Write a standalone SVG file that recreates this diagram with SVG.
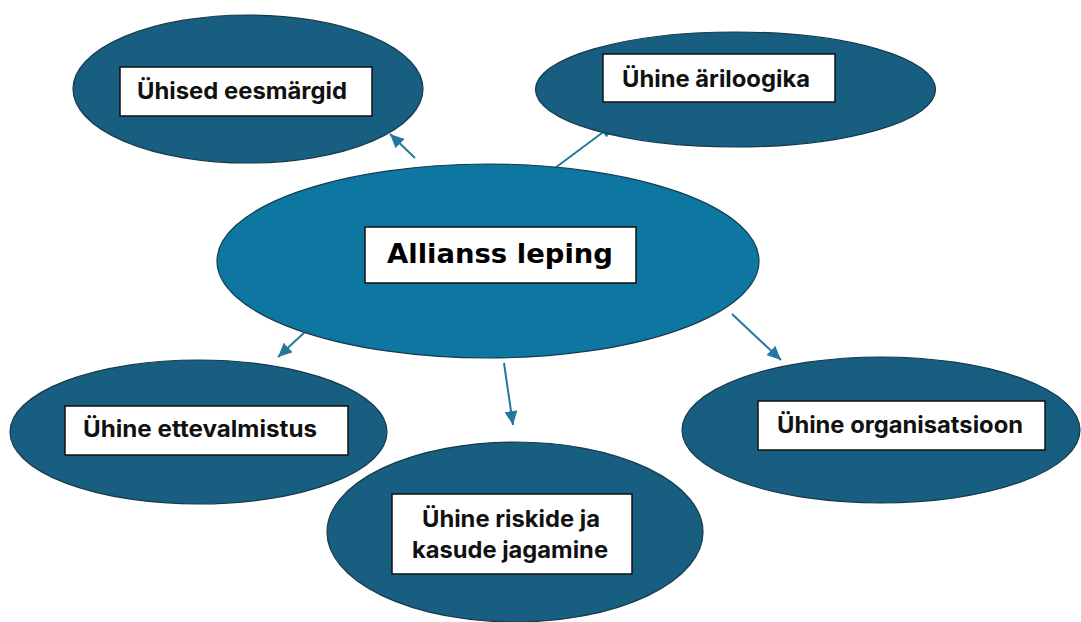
<svg xmlns="http://www.w3.org/2000/svg" width="1081" height="622" viewBox="0 0 1081 622">
<style>
.side{fill:#175e80;stroke:#163b4c;stroke-width:1.2}
.center{fill:#0d76a1;stroke:#163b4c;stroke-width:1.2}
.box{fill:#ffffff;stroke:#111111;stroke-width:1.5}
.lbl{font-family:Inter,"Liberation Sans",sans-serif;font-weight:700;font-size:23px;fill:#111111}
.main{font-family:"DejaVu Sans","Liberation Sans",sans-serif;font-weight:700;font-size:27px;fill:#000000}
.conn line{stroke:#2577a0;stroke-width:2;marker-end:url(#ah)}
</style>
<defs>
<marker id="ah" markerUnits="userSpaceOnUse" markerWidth="15" markerHeight="13" refX="14" refY="6.5" orient="auto">
<path d="M0,0 L14,6.5 L0,13 Z" fill="#2577a0"/>
</marker>
</defs>
<rect width="1081" height="622" fill="#ffffff"/>
<g id="connectors" class="conn">
<line x1="415" y1="158" x2="390" y2="134"/>
<line x1="555" y1="168" x2="614" y2="124"/>
<line x1="320" y1="318" x2="278" y2="357"/>
<line x1="504" y1="363" x2="513" y2="425"/>
<line x1="732" y1="314" x2="781" y2="360"/>
</g>
<g id="node-eesmargid">
<ellipse class="side" cx="248" cy="89" rx="175" ry="74"/>
<rect class="box" x="120" y="67" width="252" height="49"/>
<text class="lbl" x="137" y="99" textLength="210" lengthAdjust="spacingAndGlyphs">Ühised eesmärgid</text>
</g>
<g id="node-ariloogika">
<ellipse class="side" cx="735.5" cy="89.5" rx="200" ry="57.5"/>
<rect class="box" x="603" y="54" width="232" height="48"/>
<text class="lbl" x="622" y="87" textLength="188" lengthAdjust="spacingAndGlyphs">Ühine äriloogika</text>
</g>
<g id="node-allianss">
<ellipse class="center" cx="488" cy="261" rx="271" ry="97"/>
<rect class="box" x="365" y="227" width="271" height="56"/>
<text class="main" x="387" y="263" textLength="226" lengthAdjust="spacingAndGlyphs">Allianss leping</text>
</g>
<g id="node-ettevalmistus">
<ellipse class="side" cx="198.5" cy="432" rx="188.5" ry="72"/>
<rect class="box" x="65" y="406" width="283" height="49"/>
<text class="lbl" x="83" y="437" textLength="234" lengthAdjust="spacingAndGlyphs">Ühine ettevalmistus</text>
</g>
<g id="node-riskid">
<ellipse class="side" cx="515" cy="532" rx="188" ry="90"/>
<rect class="box" x="392" y="494" width="240" height="80"/>
<text class="lbl" x="422" y="527" textLength="178" lengthAdjust="spacingAndGlyphs">Ühine riskide ja</text>
<text class="lbl" x="412" y="558" textLength="196" lengthAdjust="spacingAndGlyphs">kasude jagamine</text>
</g>
<g id="node-organisatsioon">
<ellipse class="side" cx="881" cy="430" rx="199" ry="73"/>
<rect class="box" x="758" y="401" width="287" height="49"/>
<text class="lbl" x="777" y="433" textLength="246" lengthAdjust="spacingAndGlyphs">Ühine organisatsioon</text>
</g>
</svg>
